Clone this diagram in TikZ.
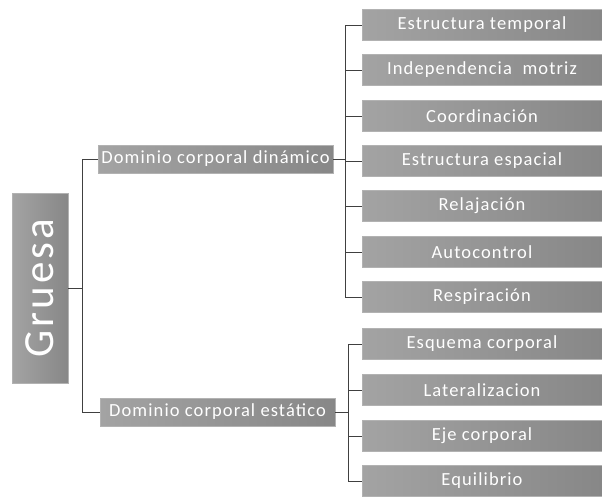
\documentclass[tikz,border=0pt]{standalone}
\usepackage{fontspec}
\setmainfont{Carlito}
\newfontfamily\boxfont[LetterSpace=6]{Carlito}
\newfontfamily\rootfont[LetterSpace=7]{Carlito}
\begin{document}
\begin{tikzpicture}[x=1pt,y=-1pt,
  boxbase/.style={draw=gray!60, line width=0.8pt, left color=black!36, right color=black!47, text=white, inner sep=0pt},
  leaf/.style={boxbase, minimum width=240pt, minimum height=31pt, font=\boxfont\fontsize{18.5}{20}\selectfont},
  mid/.style={boxbase, minimum width=235pt, minimum height=28pt, font=\boxfont\fontsize{18.5}{20}\selectfont},
  root/.style={boxbase, minimum width=190pt, minimum height=56pt, rotate=90, font=\rootfont\fontsize{43}{46}\selectfont},
  link/.style={draw=black!75, line width=0.7pt}]
\useasboundingbox (0,0) rectangle (602,496);
\fill[white] (0,0) rectangle (602,496);
\node[root] (G) at (40,288) {Gruesa};
\node[mid] (D) at (215.5,159) {Dominio corporal dinámico};
\node[mid] (E) at (217.5,412) {Dominio corporal estático};
\foreach \n/\y/\t in {a/25/Estructura temporal, b/70/Independencia\ \ motriz, c/116/Coordinación, d/161/Estructura espacial, e/206/Relajación, f/252/Autocontrol, g/297/Respiración}
  \node[leaf] (\n) at (482,\y) {\t};
\foreach \n/\y/\t in {h/344/Esquema\ corporal, i/390/Lateralizacion, j/436/Eje corporal, k/481/Equilibrio}
  \node[leaf] (\n) at (482,\y) {\t};
\draw[link] (G.south) -- ++(14,0) coordinate (gt) |- (D.west);
\draw[link] (gt) |- (E.west);
\draw[link] (D.east) -- ++(12,0) coordinate (dt);
\foreach \n in {a,b,c,d,e,f,g} \draw[link] (dt) |- (\n.west);
\draw[link] (E.east) -- ++(13,0) coordinate (et);
\foreach \n in {h,i,j,k} \draw[link] (et) |- (\n.west);
\end{tikzpicture}
\end{document}
